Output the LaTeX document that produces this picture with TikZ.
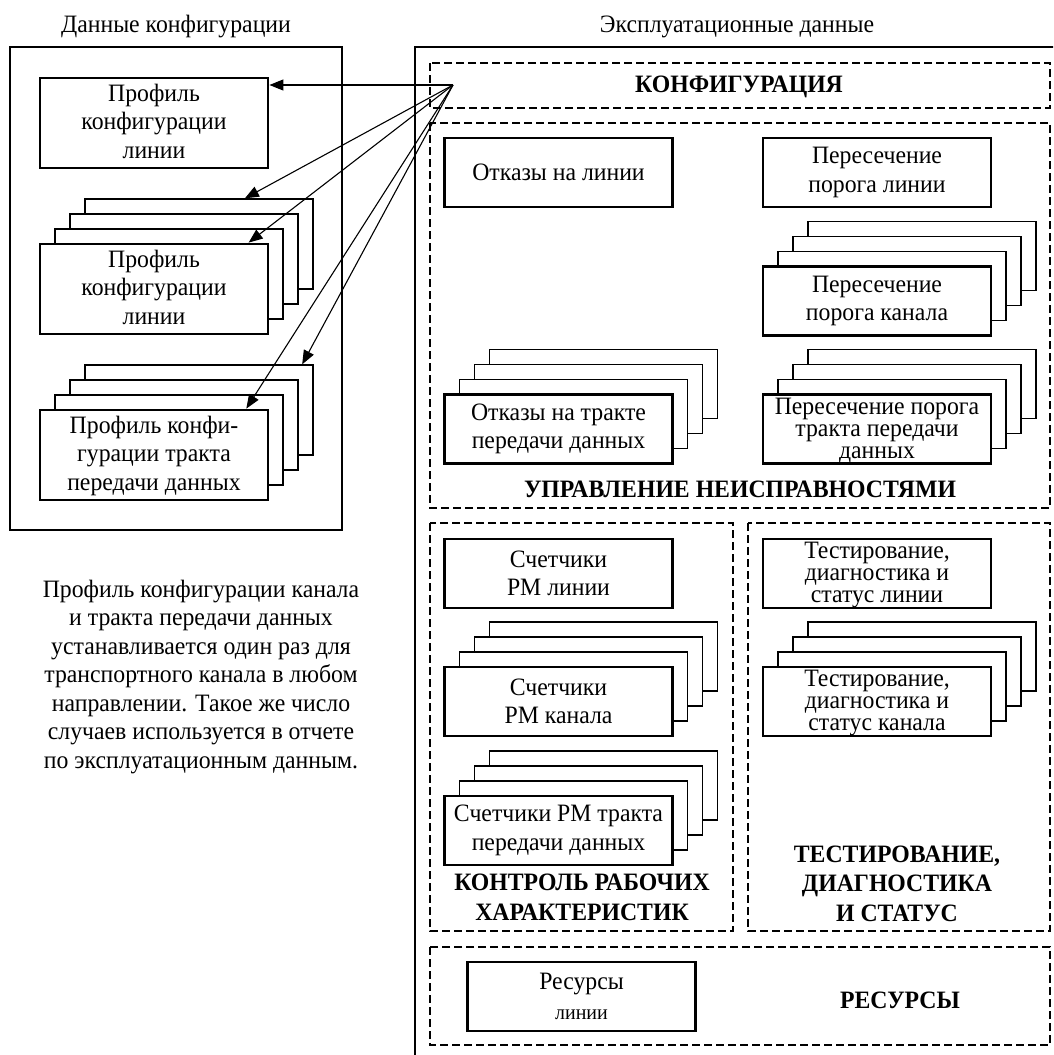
\documentclass[tikz,border=0pt]{standalone}
\usepackage{fontspec}
\setmainfont[FakeStretch=0.95]{Liberation Serif}
\usetikzlibrary{arrows.meta,calc}

% A card with three sheets peeking out behind it (up and to the right).
% #1 name, #2 x, #3 y, #4 sheet style, #5 card style, #6 text
\newcommand\stackcard[6]{%
  \foreach \k in {3,2,1}{%
    \node[#4] (#1-l\k) at (#2+15*\k, #3-15*\k) {};
  }%
  \node[#5] (#1) at (#2,#3) {#6};
}

\begin{document}
\begin{tikzpicture}[x=1pt,y=-1pt,
  every node/.style={inner sep=0pt, align=center},
  lbl/.style={font=\fontsize{25}{28.5}\selectfont},
  snug/.style={font=\fontsize{25}{22}\selectfont, text depth=2pt},
  hdr/.style={font=\fontsize{25}{29.5}\selectfont\bfseries},
  card/.style={draw, line width=2.8pt, fill=white, minimum width=228pt, minimum height=69pt, lbl},
  snugcard/.style={card, snug},
  tallcard/.style={card, minimum height=90pt, text depth=4pt},
  sheet/.style={draw, line width=1.3pt, fill=white, minimum width=228pt, minimum height=69pt},
  tallsheet/.style={sheet, minimum height=90pt},
  frame/.style={draw, line width=2.8pt},
  zone/.style={draw, line width=1.4pt, dash pattern=on 8pt off 4pt},
  link/.style={line width=1.1pt, -{Triangle[length=14pt,width=11pt]}},
]
\useasboundingbox (0,0) rectangle (1053,1055);
\clip (0,0) rectangle (1053,1055);

% ---------- configuration data ----------
\node[lbl, anchor=base] (cfgtitle) at (176,32) {Данные конфигурации};
\draw[frame] (10,47) rectangle (342,530);

\node[tallcard] (b1) at (154,123) {Профиль\\конфигурации\\линии};
\stackcard{s2}{154}{289}{tallsheet}{tallcard}{Профиль\\конфигурации\\линии}
\stackcard{s3}{154}{455}{tallsheet}{tallcard}{Профиль конфи-\\гурации тракта\\передачи данных}

\node[lbl] (note) at (201,677) {Профиль конфигурации канала\\
  и тракта передачи данных\\
  устанавливается один раз для\\
  транспортного канала в любом\\
  направлении. Такое же число\\
  случаев используется в отчете\\
  по эксплуатационным данным.};

% ---------- operational data ----------
\node[lbl, anchor=base] (optitle) at (737,32) {Эксплуатационные данные};
\draw[frame] (415,47) rectangle (1100,1100);

% configuration zone
\draw[zone] (430,63) rectangle (1050,108);
\node[hdr] (cfg) at (739,87) {КОНФИГУРАЦИЯ};

% fault management zone
\draw[zone] (430,123) rectangle (1050,508);
\node[card] (fl) at (558.5,172.5) {Отказы на линии};
\node[card] (tl) at (877,172.5) {Пересечение\\порога линии};
\stackcard{tc}{877}{301}{sheet}{card}{Пересечение\\порога канала}
\stackcard{fp}{558.5}{429}{sheet}{card}{Отказы на тракте\\передачи данных}
\stackcard{tp}{877}{429}{sheet}{snugcard}{Пересечение порога\\тракта передачи\\данных}
\node[hdr] (fm) at (740,489) {УПРАВЛЕНИЕ НЕИСПРАВНОСТЯМИ};

% performance monitoring zone
\draw[zone] (430,523) rectangle (733,931);
\node[card] (pl) at (558.5,573.5) {Счетчики\\РМ линии};
\stackcard{pc}{558.5}{701.5}{sheet}{card}{Счетчики\\РМ канала}
\stackcard{pp}{558.5}{830.5}{sheet}{card}{Счетчики РМ тракта\\передачи данных}
\node[hdr] (pm) at (582,897.5) {КОНТРОЛЬ РАБОЧИХ\\ХАРАКТЕРИСТИК};

% testing and diagnostics zone
\draw[zone] (748,523) rectangle (1050,931);
\node[snugcard] (dl) at (877,573.5) {Тестирование,\\диагностика и\\статус линии};
\stackcard{dc}{877}{701.5}{sheet}{snugcard}{Тестирование,\\диагностика и\\статус канала};
\node[hdr] (td) at (897,883.5) {ТЕСТИРОВАНИЕ,\\ДИАГНОСТИКА\\И СТАТУС};

% resources zone
\draw[zone] (430,947) rectangle (1050,1045);
\node[card] (rl) at (581.5,996.5) {Ресурсы\\[2pt]{\fontsize{21}{24}\selectfont линии}};
\node[hdr] (rs) at (900,1000) {РЕСУРСЫ};

% ---------- references from the configuration ----------
\coordinate (src) at (453,85);
\draw[link] (src) -- (src -| b1.east);
\draw[link] (src) -- ($(s2-l3.north west)!0.70!(s2-l3.north east)$);
\draw[link] (src) -- ($(s2.north west)!0.91!(s2.north east)$);
\draw[link] (src) -- ($(s3-l3.north west)!0.95!(s3-l3.north east)$);
\draw[link] (src) -- ($(s3.north west)!0.90!(s3.north east)$);
\end{tikzpicture}
\end{document}
